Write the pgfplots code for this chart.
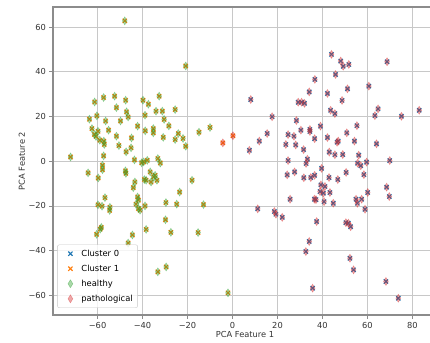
\documentclass[border=0pt]{standalone}
\usepackage{fontspec}
\setmainfont{DejaVu Sans}
\usepackage{pgfplots}
\usepackage{pgfplotstable}
\pgfplotsset{compat=1.18}
\definecolor{tabblue}{HTML}{1F77B4}
\definecolor{taborange}{HTML}{FF7F0E}
\definecolor{tabgreen}{HTML}{2CA02C}
\definecolor{tabred}{HTML}{D62728}
\definecolor{gridc}{HTML}{C8C8C8}
\definecolor{spine}{HTML}{8C8C8C}
\pgfplotstableread{
x y
-47.9 62.8
-20.8 42.6
-72.0 1.9
-61.3 26.5
-57.3 28.5
-52.4 29.1
-47.5 27.3
-39.8 27.3
-37.4 25.5
-32.6 29.1
-51.6 24.0
-47.1 22.1
-46.4 19.8
-38.9 20.6
-34.0 22.4
-31.2 22.4
-25.5 23.1
-63.6 18.8
-60.3 20.3
-56.4 18.0
-49.8 18.0
-30.4 18.7
-28.3 15.8
-42.2 15.7
-62.5 14.6
-59.8 13.4
-55.1 13.9
-38.8 13.6
-35.2 14.6
-35.2 12.7
-14.9 13.0
-10.0 15.1
-61.4 12.0
-60.7 11.1
-51.6 11.2
-44.9 10.4
-30.8 10.7
-24.1 12.4
-25.5 9.7
-22.0 10.2
-59.0 9.4
-57.2 9.0
-57.0 7.5
-50.5 7.0
-45.1 6.0
-20.8 6.7
-47.3 4.2
-43.6 0.6
-40.4 -0.7
-39.5 -0.3
-37.9 0.4
-33.2 1.2
-32.1 -0.8
-57.3 2.4
-64.2 -5.2
-57.8 -1.8
-57.8 -3.8
-59.7 -7.5
-47.6 -4.3
-47.4 -5.4
-36.6 -4.8
-34.4 -6.3
-35.1 -7.0
-36.2 -9.3
-33.6 -8.5
-43.4 -9.3
-44.1 -11.8
-38.4 -8.5
-39.2 -8.2
-18.0 -8.5
-23.5 -13.8
-56.7 -16.3
-42.2 -16.0
-41.8 -17.4
-42.9 -19.2
-41.8 -21.2
-41.1 -21.9
-38.9 -20.0
-29.6 -18.5
-24.8 -19.2
-12.9 -19.4
-59.8 -19.5
-58.0 -20.1
-54.5 -20.6
-54.6 -22.0
-29.8 -26.2
-58.3 -29.6
-58.8 -30.4
-60.4 -32.7
-44.5 -33.0
-46.4 -36.6
-38.4 -30.5
-27.4 -31.8
-15.3 -31.9
-33.2 -49.5
-29.5 -47.3
-2.0 -58.9
}\leftpts
\pgfplotstableread{
x y
-4.3 8.2
0.2 11.4
}\orangepts
\pgfplotstableread{
x y
44.0 47.8
48.1 44.8
49.2 42.5
51.7 43.3
68.7 44.5
45.8 38.8
36.6 36.6
60.6 33.6
34.1 31.0
42.2 30.3
51.1 32.4
48.7 27.2
8.1 27.6
29.2 26.4
30.7 26.4
32.0 25.9
43.6 22.8
45.5 21.3
64.7 23.4
63.3 20.4
75.1 20.1
83.0 22.8
17.6 19.9
28.4 18.2
39.1 15.7
55.3 15.9
34.4 14.2
34.4 13.3
30.4 13.9
15.4 12.4
24.7 11.9
27.3 11.2
36.5 10.1
42.2 10.6
50.8 12.7
11.9 9.0
46.5 8.5
47.0 9.0
54.2 9.0
64.0 7.8
23.7 7.5
28.1 7.3
31.6 5.2
7.5 4.9
43.0 4.1
45.5 2.9
49.0 3.0
56.1 2.7
69.9 0.3
24.7 0.3
33.3 0.9
32.7 -1.0
39.6 -3.2
55.6 -0.9
57.0 -2.0
59.6 -0.4
24.3 -6.1
27.6 -4.8
31.7 -7.4
34.8 -7.3
36.5 -6.3
42.9 -7.3
46.8 -8.2
50.5 -5.0
58.4 -6.0
39.3 -10.6
41.1 -11.3
38.9 -13.6
40.4 -14.3
43.3 -14.0
25.6 -17.0
36.4 -17.0
37.1 -17.2
40.7 -18.1
44.8 -18.8
54.9 -17.0
57.4 -17.0
55.5 -18.8
60.1 -14.0
68.5 -11.6
69.7 -15.8
58.9 -21.5
11.2 -21.3
18.6 -22.5
19.3 -23.7
22.1 -25.1
37.4 -27.0
50.4 -27.5
51.5 -27.7
52.5 -29.3
34.1 -35.9
32.6 -40.4
52.2 -43.4
53.8 -48.6
35.6 -56.8
68.2 -53.8
73.7 -61.3
}\rightpts
\begin{document}
\begin{tikzpicture}
\path[use as bounding box] (0,0) rectangle (430bp,343bp);
\begin{axis}[
  at={(53bp,28bp)}, anchor=south west,
  scale only axis, width=384bp, height=308bp,
  xmin=-79.8, xmax=90.9, ymin=-68.8, ymax=69.0,
  xtick={-60,-40,-20,0,20,40,60,80},
  xticklabels={−60,−40,−20,0,20,40,60,80},
  ytick={-60,-40,-20,0,20,40,60},
  yticklabels={−60,−40,−20,0,20,40,60},
  xtick pos=bottom, ytick pos=left,
  tick align=outside, major tick length=3.5bp,
  tick style={spine, line width=0.8bp},
  grid=major, grid style={gridc, line width=0.8bp},
  axis line style={spine, line width=1.5bp},
  ticklabel style={font=\fontsize{8.3}{10}\selectfont, text=black!80},
  label style={font=\fontsize{8.3}{10}\selectfont, text=black!80},
  xlabel={PCA Feature 1}, ylabel={PCA Feature 2},
  xlabel style={at={(axis description cs:0.5,-0.062)}, anchor=center},
  ylabel style={at={(axis description cs:-0.081,0.5)}, anchor=center},
  legend style={at={(0.011,0.023)}, anchor=south west, draw=gridc,
    rounded corners=2bp, fill=white, fill opacity=0.8, text opacity=1,
    font=\fontsize{8.4}{10}\selectfont, row sep=3.2bp, inner sep=3bp},
  legend cell align=left,
  legend image code/.code={\path[draw=none,fill=none] (0bp,-3bp) rectangle (19bp,3bp);
    \draw[#1] plot coordinates {(10bp,0bp)};},
]
\addplot[only marks, mark=x, mark size=3bp, draw=tabblue, line width=1.2bp] table {\rightpts};
\addlegendentry{Cluster 0}
\addplot[only marks, mark=x, mark size=3bp, draw=taborange, line width=1.2bp, forget plot] table {\orangepts};
\addplot[only marks, mark=x, mark size=3bp, draw=taborange, line width=1.2bp] table {\leftpts};
\addlegendentry{Cluster 1}
\addplot[only marks, mark=diamond*, mark size=4bp, mark options={xscale=0.8, fill=tabgreen, draw=tabgreen, opacity=0.4, line width=0.5bp}] table {\leftpts};
\addlegendentry{healthy}
\addplot[only marks, mark=diamond*, mark size=4bp, mark options={xscale=0.8, fill=tabred, draw=tabred, opacity=0.4, line width=0.5bp}, forget plot] table {\orangepts};
\addplot[only marks, mark=diamond*, mark size=4bp, mark options={xscale=0.8, fill=tabred, draw=tabred, opacity=0.4, line width=0.5bp}] table {\rightpts};
\addlegendentry{pathological}
\end{axis}
\end{tikzpicture}
\end{document}
